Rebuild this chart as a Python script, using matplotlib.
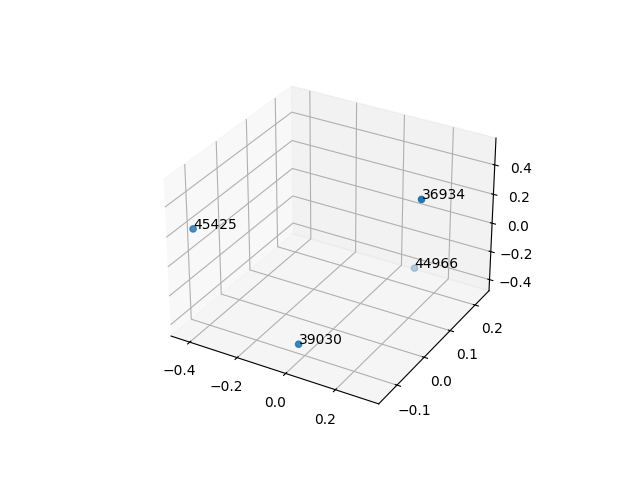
import matplotlib
matplotlib.use("Agg")
import matplotlib.pyplot as plt

labels = ["45425", "39030", "44966", "36934"]
xs = [-0.424, 0.02, 0.082, 0.31]
ys = [-0.123, -0.137, 0.233, 0.033]
zs = [0.213, -0.32, -0.418, 0.497]

fig = plt.figure(figsize=(6.4, 4.8), dpi=100)
ax = fig.add_subplot(projection="3d")
ax.scatter(xs, ys, zs)
for x, y, z, t in zip(xs, ys, zs, labels):
    ax.text(x, y, z, t)
ax.set_xlim(-0.48, 0.37)
ax.set_ylim(-0.165, 0.258)
ax.set_zlim(-0.48, 0.58)
fig.savefig("out.png", dpi=100)
